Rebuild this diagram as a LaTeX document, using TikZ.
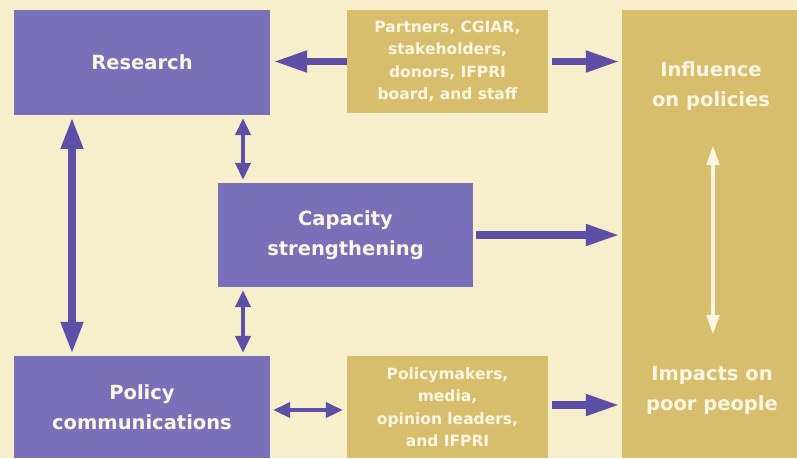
\documentclass[tikz,border=0pt]{standalone}
\usepackage{fontspec}
\setmainfont{DejaVu Sans}
\usetikzlibrary{arrows.meta}
\definecolor{bgcream}{HTML}{F7EFCC}
\definecolor{boxpurple}{HTML}{7A6FB9}
\definecolor{arrowpurple}{HTML}{5D4FA5}
\definecolor{boxgold}{HTML}{D6BE6C}
\definecolor{textlight}{HTML}{FBF6E4}
\tikzset{
  bigtext/.style={text=textlight, align=center, font=\bfseries\fontsize{19.5}{30}\selectfont},
  purplebox/.style={fill=boxpurple, draw=none, bigtext, inner sep=0pt},
  goldbox/.style={fill=boxgold, draw=none, text=textlight, align=center,
    font=\bfseries\fontsize{15.5}{22.5}\selectfont, inner sep=0pt},
  thickarr/.style={draw=arrowpurple, line width=7.5pt, {Triangle[length=32pt,width=21pt]}-{Triangle[length=32pt,width=21pt]}},
  onearr/.style={draw=arrowpurple, line width=7.5pt, -{Triangle[length=34pt,width=20pt]}},
  thinarr/.style={draw=arrowpurple, line width=4.5pt, {Triangle[length=17pt,width=15pt]}-{Triangle[length=17pt,width=15pt]}},
  whitearr/.style={draw=textlight, line width=4.5pt, {Triangle[length=20pt,width=12pt]}-{Triangle[length=20pt,width=12pt]}},
}
\begin{document}
\begin{tikzpicture}[x=1pt,y=-1pt]
  \fill[bgcream] (0,0) rectangle (797,458);
  \useasboundingbox (0,0) rectangle (797,458);

  % main activity boxes
  \node[purplebox, minimum width=256pt, minimum height=105pt] (research) at (142,62.5) {Research};
  \node[purplebox, minimum width=255pt, minimum height=104pt] (capacity) at (345.5,235) {Capacity\\strengthening};
  \node[purplebox, minimum width=256pt, minimum height=102pt] (policy) at (142,407) {Policy\\communications};

  % partner boxes
  \node[goldbox, minimum width=201pt, minimum height=103pt] (partners) at (447.5,61.5)
    {Partners, CGIAR,\\stakeholders,\\donors, IFPRI\\board, and staff};
  \node[goldbox, minimum width=201pt, minimum height=102pt] (audience) at (447.5,407)
    {Policymakers,\\media,\\opinion leaders,\\and IFPRI};

  % outcome column
  \node[fill=boxgold, minimum width=175pt, minimum height=448pt, inner sep=0pt] (outcome) at (709.5,234) {};
  \node[bigtext] (influence) at (711,86) {Influence\\on policies};
  \node[bigtext] (impacts) at (712,390) {Impacts on\\poor people};
  \coordinate (linktop) at (713,145);
  \coordinate (linkbot) at (713,335);

  % connectors
  \draw[onearr] (partners.west) -- ([xshift=3pt]research.east |- partners.west);
  \draw[onearr] ([xshift=4pt]partners.east) -- ([xshift=-2pt]outcome.west |- partners.east);
  \draw[thickarr] ([yshift=-2pt]research.south west -| 72,0) -- ([yshift=2pt]policy.north west -| 72,0);
  \draw[thinarr] ([yshift=-3pt]research.south -| 243,0) -- ([yshift=3pt]capacity.north -| 243,0);
  \draw[thinarr] ([yshift=-3pt]capacity.south -| 243,0) -- ([yshift=3pt]policy.north -| 243,0);
  \draw[onearr] ([xshift=3pt]capacity.east) -- ([xshift=-2pt]outcome.west |- capacity.east);
  \draw[thinarr] ([xshift=3pt]policy.east |- 0,410) -- ([xshift=-4pt]audience.west |- 0,410);
  \draw[onearr] ([xshift=4pt]audience.east |- 0,405) -- ([xshift=-2pt]outcome.west |- 0,405);
  \draw[whitearr] (linktop) -- (linkbot);
\end{tikzpicture}
\end{document}
